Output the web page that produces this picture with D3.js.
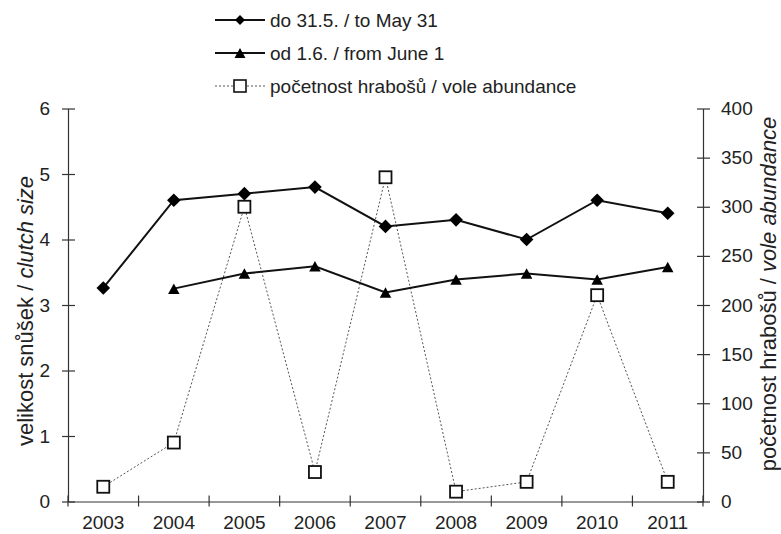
<!DOCTYPE html>
<html>
<head>
<meta charset="utf-8">
<script src="https://cdn.jsdelivr.net/npm/d3@7"></script>
<style>
  html, body { margin: 0; padding: 0; background: #fff; }
  svg { display: block; font-family: "Liberation Sans", Arial, sans-serif; }
</style>
</head>
<body>
<svg id="chart" width="781" height="534"></svg>
<script>
// Breeding seasons and clutch sizes
const years = ["2003", "2004", "2005", "2006", "2007", "2008", "2009", "2010", "2011"];
const clutchEarly = [3.26, 4.6, 4.7, 4.8, 4.2, 4.3, 4.0, 4.6, 4.4];      // do 31.5. / to May 31
const clutchLate = [null, 3.25, 3.48, 3.59, 3.19, 3.39, 3.48, 3.39, 3.58]; // od 1.6. / from June 1
const voleAbundance = [15, 60, 300, 30, 330, 10, 20, 210, 20];         // početnost hrabošů
const leftTicks = [0, 1, 2, 3, 4, 5, 6];
const rightTicks = [0, 50, 100, 150, 200, 250, 300, 350, 400];

const svg = d3.select("#chart");
const plot = { left: 68, right: 703, top: 108.5, bottom: 501.5 };
const axisColor = "#333";
const textColor = "#222";
const fontSize = 19;

const x = d3.scaleBand().domain(years).range([plot.left, plot.right]).paddingInner(0).paddingOuter(0);
const yL = d3.scaleLinear().domain([0, 6]).range([plot.bottom, plot.top]);
const yR = d3.scaleLinear().domain([0, 400]).range([plot.bottom, plot.top]);
const cx = d => x(d) + x.bandwidth() / 2;

// Left axis with ticks crossing the line
const gL = svg.append("g").attr("transform", `translate(${plot.left},0)`)
  .call(d3.axisLeft(yL).tickValues(leftTicks).tickSizeInner(6).tickSizeOuter(0).tickPadding(12).tickFormat(d3.format("d")));
gL.selectAll(".tick line").attr("x1", 7);
// Right axis
const gR = svg.append("g").attr("transform", `translate(${plot.right},0)`)
  .call(d3.axisRight(yR).tickValues(rightTicks).tickSizeInner(7).tickSizeOuter(0).tickPadding(11).tickFormat(d3.format("d")));
gR.selectAll(".tick line").attr("x1", -6);
// Bottom axis: labels centred on categories, ticks on category boundaries
const gB = svg.append("g").attr("transform", `translate(0,${plot.bottom})`)
  .call(d3.axisBottom(x).tickSize(0).tickPadding(14).tickSizeOuter(0));
const boundaries = years.map(d => x(d)).concat([plot.right]);
gB.selectAll(".bound").data(boundaries).join("line").attr("class", "bound")
  .attr("x1", d => d).attr("x2", d => d).attr("y1", -6).attr("y2", 5);

[gL, gR, gB].forEach(g => {
  g.selectAll("path.domain, line").attr("stroke", axisColor).attr("stroke-width", 1.2);
  g.selectAll("text").attr("font-size", fontSize).attr("fill", textColor)
    .attr("font-family", "Liberation Sans, Arial, sans-serif");
});

// Axis titles
const tL = svg.append("text").attr("transform", "translate(33,311) rotate(-90)")
  .attr("text-anchor", "middle").attr("font-size", 22).attr("fill", textColor);
tL.append("tspan").text("velikost snůšek / ");
tL.append("tspan").attr("font-style", "italic").text("clutch size");
const tR = svg.append("text").attr("transform", "translate(776,294) rotate(-90)")
  .attr("text-anchor", "middle").attr("font-size", 22).attr("fill", textColor);
tR.append("tspan").text("početnost hrabošů / ");
tR.append("tspan").attr("font-style", "italic").text("vole abundance");

// Marker shapes
const diamond = (s) => `M0,${-s}L${s},0L0,${s}L${-s},0Z`;
const triangle = (w, h) => `M0,${-h / 2}L${w / 2},${h / 2}L${-w / 2},${h / 2}Z`;

// Vole abundance (secondary axis), dotted
const voleData = years.map((d, i) => ({ year: d, v: voleAbundance[i] }));
svg.append("path").datum(voleData)
  .attr("fill", "none").attr("stroke", "#555").attr("stroke-width", 1).attr("stroke-dasharray", "2,2")
  .attr("d", d3.line().x(d => cx(d.year)).y(d => yR(d.v)));

// Early clutches
const earlyData = years.map((d, i) => ({ year: d, v: clutchEarly[i] }));
svg.append("path").datum(earlyData)
  .attr("fill", "none").attr("stroke", "#111").attr("stroke-width", 2)
  .attr("d", d3.line().x(d => cx(d.year)).y(d => yL(d.v)));
svg.selectAll(".dia").data(earlyData).join("path").attr("class", "dia")
  .attr("transform", d => `translate(${cx(d.year)},${yL(d.v)})`)
  .attr("d", diamond(6.8)).attr("fill", "#000");

// Late clutches
const lateData = years.map((d, i) => ({ year: d, v: clutchLate[i] }));
svg.append("path").datum(lateData)
  .attr("fill", "none").attr("stroke", "#111").attr("stroke-width", 2)
  .attr("d", d3.line().defined(d => d.v != null).x(d => cx(d.year)).y(d => yL(d.v)));
svg.selectAll(".tri").data(lateData.filter(d => d.v != null)).join("path").attr("class", "tri")
  .attr("transform", d => `translate(${cx(d.year)},${yL(d.v)})`)
  .attr("d", triangle(11.5, 10.5)).attr("fill", "#000");

// Vole squares on top
svg.selectAll(".sq").data(voleData).join("rect").attr("class", "sq")
  .attr("x", d => cx(d.year) - 6).attr("y", d => yR(d.v) - 6)
  .attr("width", 12).attr("height", 12)
  .attr("fill", "#fff").attr("stroke", "#111").attr("stroke-width", 1.8);

// Legend
const legend = svg.append("g");
const rows = [
  { y: 20, label: "do 31.5. / to May 31", kind: "diamond" },
  { y: 53, label: "od 1.6. / from June 1", kind: "triangle" },
  { y: 86, label: "početnost hrabošů / vole abundance", kind: "square" }
];
rows.forEach(r => {
  const g = legend.append("g").attr("transform", `translate(0,${r.y})`);
  if (r.kind === "square") {
    g.append("line").attr("x1", 215).attr("x2", 265).attr("stroke", "#555")
      .attr("stroke-width", 1).attr("stroke-dasharray", "2,2");
    g.append("rect").attr("x", 234).attr("y", -6).attr("width", 12).attr("height", 12)
      .attr("fill", "#fff").attr("stroke", "#111").attr("stroke-width", 1.6);
  } else {
    g.append("line").attr("x1", 215).attr("x2", 265).attr("stroke", "#111").attr("stroke-width", 2);
    g.append("path").attr("transform", "translate(240,0)")
      .attr("d", r.kind === "diamond" ? diamond(5) : triangle(11, 10)).attr("fill", "#000");
  }
  g.append("text").attr("x", 270).attr("y", 7).attr("font-size", fontSize).attr("fill", textColor)
    .text(r.label);
});
</script>
</body>
</html>
